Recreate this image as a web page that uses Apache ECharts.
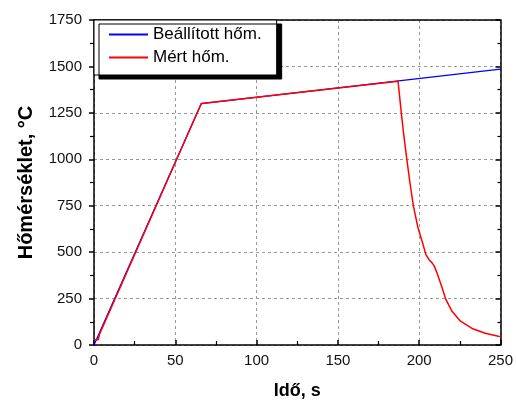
<!DOCTYPE html>
<html>
<head>
<meta charset="utf-8">
<script src="https://cdn.jsdelivr.net/npm/echarts@6/dist/echarts.min.js"></script>
<style>
html,body{margin:0;padding:0;background:#fff;}
#chart{width:516px;height:405px;}
</style>
</head>
<body>
<div id="chart"></div>
<script>
// Data
var seriesNames = ['Beállított hőm.', 'Mért hőm.'];
var setTime = [0, 66, 250];
var setTemp = [0, 1300, 1485];
var measTime = [0, 2.6, 3.4, 66, 187, 188, 189, 190.6, 192.4, 194.3, 196.4, 199.1, 202.1, 204.1, 206.1, 207.7, 209.2, 211.2, 214.3, 216.3, 220.3, 225.4, 232.5, 240.6, 248.7, 250];
var measTemp = [28, 28, 58, 1300, 1420, 1335, 1250, 1125, 1000, 875, 750, 637, 549, 488, 458, 445, 426, 382, 303, 247, 180, 128, 89, 63, 47, 46];
var xTitle = 'Idő, s';
var yTitle = 'Hőmérséklet, °C';

function pairs(xs, ys) { return xs.map(function (x, i) { return [x, ys[i]]; }); }

var chart = echarts.init(document.getElementById('chart'), null, {renderer: 'canvas'});
var font = 'Arial, "Liberation Sans", sans-serif';
var axisLine = {show: true, onZero: false, lineStyle: {color: '#000', width: 1.5}};
var plain = function (v) { return String(v); };
var option = {
  backgroundColor: '#fff',
  animation: false,
  grid: {left: 94, right: 11, top: 20, bottom: 54, containLabel: false},
  legend: {
    orient: 'vertical', left: 94, top: 20,
    padding: [6, 15, 9, 14],
    itemWidth: 39, itemHeight: 14, itemGap: 6,
    backgroundColor: '#fff', borderColor: '#000', borderWidth: 1,
    shadowColor: '#000', shadowBlur: 0, shadowOffsetX: 5, shadowOffsetY: 4,
    itemStyle: {color: 'rgba(0,0,0,0)', borderColor: 'rgba(0,0,0,0)', borderWidth: 0},
    textStyle: {fontFamily: font, fontSize: 17, color: '#000'},
    data: seriesNames,
    z: 10
  },
  xAxis: [{
    type: 'value', min: 0, max: 250, interval: 50, position: 'bottom',
    name: xTitle, nameLocation: 'middle', nameGap: 37,
    nameTextStyle: {fontFamily: font, fontSize: 18, fontWeight: 'bold', color: '#000'},
    axisLine: axisLine,
    axisTick: {show: true, inside: true, length: 5, lineStyle: {color: '#000', width: 1.5}},
    minorTick: {show: true, splitNumber: 2, length: 4, lineStyle: {color: '#000', width: 1.2}},
    axisLabel: {fontFamily: font, fontSize: 15, color: '#111', margin: 8, formatter: plain},
    splitLine: {show: true, lineStyle: {color: '#999', type: [3, 3], width: 1}}
  }, {
    type: 'value', min: 0, max: 250, interval: 50, position: 'top',
    axisLine: axisLine, axisTick: {show: false}, axisLabel: {show: false}, splitLine: {show: false}
  }],
  yAxis: [{
    type: 'value', min: 0, max: 1750, interval: 250, position: 'left',
    name: yTitle, nameLocation: 'middle', nameGap: 58, nameRotate: 90,
    nameTextStyle: {fontFamily: font, fontSize: 20, fontWeight: 'bold', color: '#000'},
    axisLine: axisLine,
    axisTick: {show: true, inside: false, length: 5, lineStyle: {color: '#000', width: 1.5}},
    minorTick: {show: true, splitNumber: 2, length: 4, lineStyle: {color: '#000', width: 1.2}},
    axisLabel: {fontFamily: font, fontSize: 15, color: '#111', margin: 12, formatter: plain},
    splitLine: {show: true, lineStyle: {color: '#999', type: [3, 3], width: 1}}
  }, {
    type: 'value', min: 0, max: 1750, interval: 250, position: 'right',
    axisLine: axisLine,
    axisTick: {show: true, inside: true, length: 5, lineStyle: {color: '#000', width: 1.5}},
    minorTick: {show: true, splitNumber: 2, length: 3, lineStyle: {color: '#000', width: 1.2}},
    axisLabel: {show: false}, splitLine: {show: false}
  }],
  series: [{
    name: seriesNames[0], type: 'line', xAxisIndex: 0, yAxisIndex: 0,
    data: pairs(setTime, setTemp), symbol: 'none',
    lineStyle: {color: '#0000ff', width: 1.3}, itemStyle: {color: '#0000ff'}, z: 2
  }, {
    name: seriesNames[1], type: 'line', xAxisIndex: 0, yAxisIndex: 0,
    data: pairs(measTime, measTemp), symbol: 'none',
    lineStyle: {color: '#ff0000', width: 1.5}, itemStyle: {color: '#ff0000'}, z: 3
  }]
};
chart.setOption(option);
</script>
</body>
</html>
